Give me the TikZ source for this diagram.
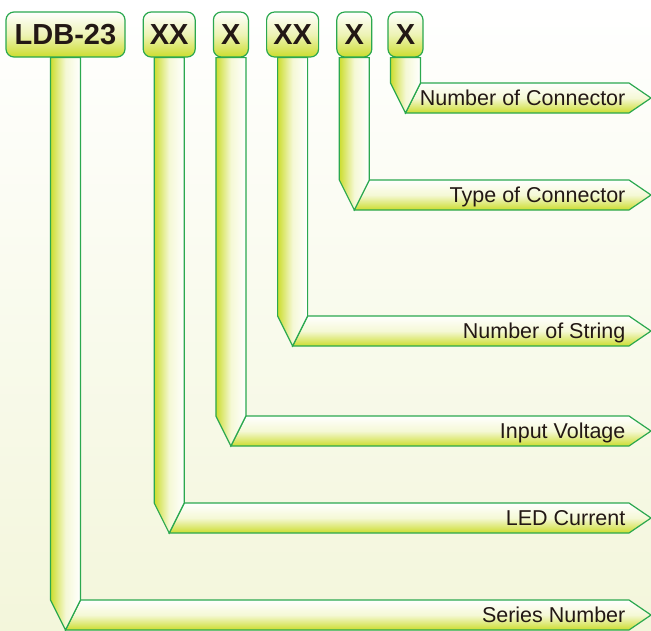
\documentclass[tikz,border=0pt]{standalone}
\usepackage{fontspec}
\setmainfont{Liberation Sans}
\usetikzlibrary{positioning, calc}
\definecolor{cgreen}{HTML}{2BA84F}
\definecolor{clime}{HTML}{CCDD2E}
\definecolor{cink}{HTML}{231815}
\definecolor{cbg}{HTML}{F3F6DB}
\tikzset{
  every picture/.style={line width=1.2pt},
  codebox/.style={draw=cgreen, rounded corners=8pt, top color=white, bottom color=clime,
    middle color=clime!35, inner sep=0pt, minimum height=45pt, text=cink,
    font=\fontsize{29}{31}\selectfont\bfseries},
  codestem/.style={draw=cgreen, left color=clime, right color=white, middle color=clime!20},
  codebar/.style={draw=cgreen, top color=white, bottom color=clime, middle color=clime!20},
  tag/.style={anchor=base east, inner sep=0pt, text=cink, font=\fontsize{21.5}{24}\selectfont},
}
\begin{document}
\begin{tikzpicture}[x=1pt, y=1pt, node distance=17pt]
  \useasboundingbox (0,0) rectangle (651,-630);
  \fill[top color=white, bottom color=cbg] (0,0) rectangle (651,-630);
  % the code boxes of the part number
  \node[codebox, minimum width=119pt] (ldb) at (65.5,-34.5) {LDB-23};
  \node[codebox, minimum width=52pt, right=of ldb] (cur) {XX};
  \node[codebox, minimum width=35pt, right=of cur] (volt) {X};
  \node[codebox, minimum width=52pt, right=of volt] (str) {XX};
  \node[codebox, minimum width=35pt, right=of str] (ctype) {X};
  \node[codebox, minimum width=35pt, right=15pt of ctype] (cnum) {X};
  % each box: stem down to its bar, bar pointing right to the meaning
  \foreach \b/\t/\lab in {ldb/600/Series Number, cur/503/LED Current, volt/416/Input Voltage,
      str/316/Number of String, ctype/180/Type of Connector, cnum/83/Number of Connector}{
    \coordinate (\b-pt) at (651,-\t-15);
    \draw[codebar] let \p1=(\b.south), \p2=(\b-pt) in
      (\x1,\y2-15) -- (\x1+15,\y2+15) -- (\x2-22,\y2+15) -- (\p2) -- (\x2-22,\y2-15) -- cycle;
    \draw[codestem] let \p1=(\b.south), \p2=(\b-pt) in
      (\x1-15,\y1) -- (\x1-15,\y2+15) -- (\x1,\y2-15) -- (\x1+15,\y2+15) -- (\x1+15,\y1) -- cycle;
    \node[tag] (\b-tag) at (626,-\t-22.5) {\lab};
  }
\end{tikzpicture}
\end{document}
